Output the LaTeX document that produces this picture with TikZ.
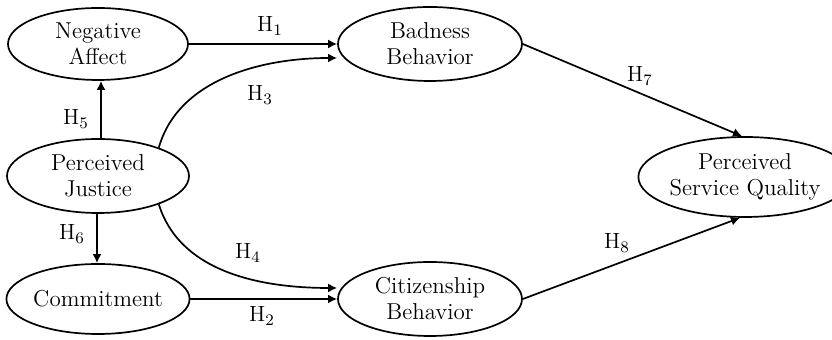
\documentclass[tikz,border=0pt]{standalone}
\usetikzlibrary{shapes.geometric,arrows.meta}
\begin{document}
\begin{tikzpicture}[x=0.5pt,y=-0.5pt,
  construct/.style={ellipse,draw,line width=0.85pt,inner sep=0pt,align=center,
    font=\fontsize{11.5}{13}\selectfont},
  link/.style={line width=0.85pt,-{Latex[length=4.5pt,width=4.5pt]}},
  hlab/.style={font=\fontsize{11}{12}\selectfont,inner sep=1pt}]
\useasboundingbox (0,0) rectangle (832,340);
\node[construct,minimum width=90pt,minimum height=36pt] (na) at (98,44) {Negative\\Affect};
\node[construct,minimum width=92pt,minimum height=37pt] (bb) at (430,44) {Badness\\Behavior};
\node[construct,minimum width=91pt,minimum height=37pt] (pj) at (98,176) {Perceived\\Justice};
\node[construct,minimum width=90pt,minimum height=35pt] (cm) at (98,299) {Commitment};
\node[construct,minimum width=92pt,minimum height=37pt] (cb) at (430,299) {Citizenship\\Behavior};
\node[construct,minimum width=86pt,minimum height=40pt] (psq) at (745,177) {Perceived\\Service Quality};
\draw[link] (na.east) -- (bb.west);
\draw[link] (pj.25) .. controls (178,80) and (260,58) .. (bb.west |- 0,58) coordinate (h3end);
\draw[link] (pj.north -| 101,0) -- (na.south -| 101,0);
\draw[link] (pj.south -| 97,0) -- (cm.north -| 97,0);
\draw[link] (pj.-25) .. controls (180,272) and (260,288) .. (cb.west |- 0,288) coordinate (h4end);
\draw[link] (cm.east) -- (cb.west);
\draw[link] (bb.east) -- (psq.north -| 742,0);
\draw[link] (cb.east) -- (psq.south -| 740,0);
\node[hlab] (l1) at (270,26) {H$_1$};
\node[hlab] (l3) at (260,95) {H$_3$};
\node[hlab] (l5) at (76,119) {H$_5$};
\node[hlab] (l6) at (72,234) {H$_6$};
\node[hlab] (l4) at (248,253) {H$_4$};
\node[hlab] (l2) at (262,316) {H$_2$};
\node[hlab] (l7) at (640,76) {H$_7$};
\node[hlab] (l8) at (617,243) {H$_8$};
\end{tikzpicture}
\end{document}
